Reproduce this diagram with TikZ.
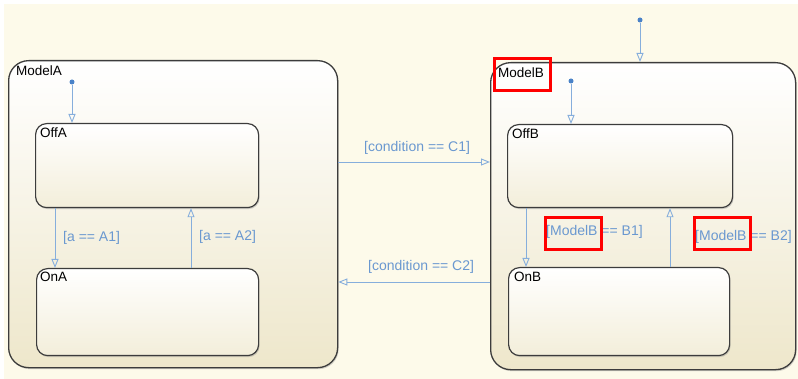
\documentclass[tikz,border=0pt]{standalone}
\usepackage{fontspec}
\setmainfont{Liberation Sans}
\usetikzlibrary{arrows.meta,calc,shadows}
\definecolor{bgcream}{HTML}{FDFAEA}
\definecolor{boxbot}{HTML}{EEE7CB}
\definecolor{innerbot}{HTML}{F3EEDA}
\definecolor{trcol}{HTML}{86AEDC}
\definecolor{lblcol}{HTML}{6A98D0}
\definecolor{dotcol}{HTML}{4A82C8}
\definecolor{edge}{HTML}{3C3C3C}
\tikzset{
  x=1pt,y=-1pt,
  outerstate/.style={draw=edge,line width=1.3pt,rounded corners=20pt,top color=white,bottom color=boxbot,
    drop shadow={shadow xshift=1pt,shadow yshift=-1.5pt,opacity=0.35},anchor=north west,inner sep=0pt},
  innerstate/.style={draw=edge,line width=1.2pt,rounded corners=11pt,top color=white,bottom color=innerbot,
    drop shadow={shadow xshift=1pt,shadow yshift=-1.5pt,opacity=0.35},anchor=north west,inner sep=0pt},
  statename/.style={anchor=north west,inner sep=0pt,font=\fontsize{13.5}{15}\selectfont,text=black},
  trans/.style={draw=trcol,line width=0.9pt,-{Triangle[open,length=9pt,width=7pt]}},
  guard/.style={anchor=west,inner sep=0pt,font=\fontsize{14}{16}\selectfont,text=lblcol},
  dflt/.style={circle,fill=dotcol,inner sep=0pt,minimum size=5pt},
  hl/.style={draw=red,line width=3.2pt,anchor=north west,inner sep=0pt}
}
\begin{document}
\begin{tikzpicture}
\useasboundingbox (0,0) rectangle (798,379);
\fill[white] (0,0) rectangle (798,379);
\fill[bgcream] (4,4) rectangle (798,379);

% outer states
\node[outerstate,minimum width=329pt,minimum height=307pt] (ModelA) at (8,60) {};
\node[outerstate,minimum width=305pt,minimum height=307pt] (ModelB) at (490,62) {};
\node[statename] (ModelAlbl) at (16,66) {ModelA};
\node[statename] (ModelBlbl) at (498,68) {ModelB};

% inner states
\node[innerstate,minimum width=223pt,minimum height=84pt] (OffA) at (35,123) {};
\node[innerstate,minimum width=222pt,minimum height=87pt] (OnA) at (36,268) {};
\node[innerstate,minimum width=225pt,minimum height=83pt] (OffB) at (507,124) {};
\node[innerstate,minimum width=221pt,minimum height=88pt] (OnB) at (508,267) {};
\node[statename] (OffAlbl) at (40,128) {OffA};
\node[statename] (OnAlbl) at (40,272) {OnA};
\node[statename] (OffBlbl) at (512,129) {OffB};
\node[statename] (OnBlbl) at (514,272) {OnB};

% default transitions
\node[dflt] (dA) at (72,82) {};
\node[dflt] (dB) at (571,81) {};
\node[dflt] (dTop) at (640,20) {};
\draw[trans] (dA) -- (dA |- OffA.north);
\draw[trans] (dB) -- (dB |- OffB.north);
\draw[trans] (dTop) -- (dTop |- ModelB.north);

% transitions inside ModelA
\coordinate (a1) at (55,0);
\coordinate (a2) at (191,0);
\draw[trans] (a1 |- OffA.south) -- (a1 |- OnA.north);
\draw[trans] (a2 |- OnA.north) -- (a2 |- OffA.south);
\node[guard] (gA1) at (63,238) {[a == A1]};
\node[guard] (gA2) at (199,237) {[a == A2]};

% transitions inside ModelB
\coordinate (b1) at (526,0);
\coordinate (b2) at (670,0);
\draw[trans] (b1 |- OffB.south) -- (b1 |- OnB.north);
\draw[trans] (b2 |- OnB.north) -- (b2 |- OffB.south);
\node[guard] (gB1) at (546,232) {[ModelB == B1]};
\node[guard] (gB2) at (695,237) {[ModelB == B2]};

% transitions between
\coordinate (c1) at (0,162);
\coordinate (c2) at (0,282);
\draw[trans] (ModelA.east |- c1) -- (ModelB.west |- c1);
\draw[trans] (ModelB.west |- c2) -- (ModelA.east |- c2);
\node[guard] (gC1) at (364,148) {[condition == C1]};
\node[guard] (gC2) at (368,267) {[condition == C2]};

% highlight boxes
\node[hl,minimum width=56pt,minimum height=32pt] (hl1) at (493,57) {};
\node[hl,minimum width=56pt,minimum height=32pt] (hl2) at (544,216) {};
\node[hl,minimum width=56pt,minimum height=32pt] (hl3) at (693,216) {};
\end{tikzpicture}
\end{document}
